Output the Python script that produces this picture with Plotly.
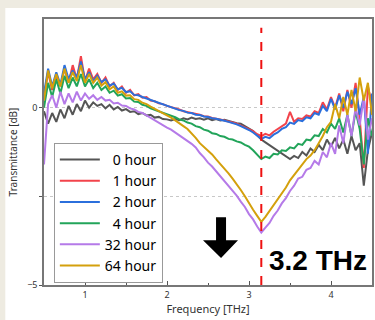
import plotly.graph_objects as go

freq = [0.50, 0.55, 0.60, 0.65, 0.70, 0.75, 0.80, 0.85, 0.90, 0.95,
        1.00, 1.05, 1.10, 1.15, 1.20, 1.25, 1.30, 1.35, 1.40, 1.45,
        1.50, 1.55, 1.60, 1.65, 1.70, 1.75, 1.80, 1.85, 1.90, 1.95,
        2.00, 2.05, 2.10, 2.15, 2.20, 2.25, 2.30, 2.35, 2.40, 2.45,
        2.50, 2.55, 2.60, 2.65, 2.70, 2.75, 2.80, 2.85, 2.90, 2.95,
        3.00, 3.05, 3.10, 3.15, 3.20, 3.25, 3.30, 3.35, 3.40, 3.45,
        3.50, 3.55, 3.60, 3.65, 3.70, 3.75, 3.80, 3.85, 3.90, 3.95,
        4.00, 4.05, 4.10, 4.15, 4.20, 4.25, 4.30, 4.35, 4.40, 4.45, 4.50]

h0 = [-0.1, -0.45, -0.15, -0.4, -0.05, -0.3, 0.05, -0.2, 0.1, -0.1,
      0.2, 0.0, 0.15, 0.05, 0.1, -0.02, 0.08, -0.05, 0.02, -0.08,
      -0.04, -0.12, -0.1, -0.18, -0.15, -0.22, -0.2, -0.28, -0.26, -0.32,
      -0.33, -0.36, -0.32, -0.35, -0.3, -0.33, -0.28, -0.32, -0.3, -0.34,
      -0.3, -0.35, -0.32, -0.36, -0.34, -0.38, -0.4, -0.44, -0.45, -0.52,
      -0.58, -0.66, -0.78, -0.9, -0.98, -1.06, -1.12, -1.22, -1.3, -1.38,
      -1.45, -1.36, -1.42, -1.25, -1.35, -1.15, -1.25, -1.05, -1.2, -0.9,
      -1.1, -0.85, -1.15, -0.9, -1.3, -0.8, -1.2, -1.0, -2.2, -1.2, -0.7]

h1 = [0.3, 1.0, 0.5, 0.9, 0.6, 1.1, 0.7, 1.2, 0.8, 1.45,
      0.75, 1.1, 0.8, 0.95, 0.7, 0.85, 0.6, 0.7, 0.5, 0.6,
      0.42, 0.5, 0.35, 0.38, 0.28, 0.3, 0.2, 0.18, 0.12, 0.1,
      0.05, 0.02, -0.03, -0.05, -0.1, -0.12, -0.16, -0.18, -0.2, -0.24,
      -0.25, -0.29, -0.3, -0.33, -0.36, -0.38, -0.42, -0.45, -0.5, -0.54,
      -0.6, -0.66, -0.75, -0.8, -0.74, -0.78, -0.68, -0.6, -0.52, -0.45,
      -0.12, -0.4, -0.3, -0.32, -0.22, -0.25, -0.1, -0.15, 0.15, -0.05,
      0.3, 0.0, 0.4, -0.1, 0.5, 0.0, 0.7, -0.3, -1.7, 0.6, 0.1]

h2 = [0.4, 1.1, 0.6, 1.0, 0.65, 1.2, 0.8, 1.05, 0.85, 1.3,
      0.8, 1.0, 0.75, 0.9, 0.72, 0.8, 0.62, 0.68, 0.52, 0.56,
      0.44, 0.46, 0.36, 0.35, 0.3, 0.26, 0.22, 0.16, 0.14, 0.08,
      0.06, 0.0, -0.02, -0.07, -0.09, -0.14, -0.15, -0.2, -0.21, -0.25,
      -0.26, -0.3, -0.31, -0.35, -0.37, -0.4, -0.43, -0.47, -0.52, -0.57,
      -0.63, -0.7, -0.8, -0.88, -0.82, -0.86, -0.76, -0.7, -0.6, -0.55,
      -0.42, -0.46, -0.35, -0.38, -0.27, -0.3, -0.15, -0.2, 0.05, -0.1,
      0.25, -0.05, 0.35, 0.0, 0.45, 0.1, 0.55, -0.2, 0.3, -1.3, 0.4]

h4 = [0.0, 0.7, 0.3, 0.8, 0.4, 0.9, 0.55, 0.85, 0.6, 0.95,
      0.6, 0.8, 0.55, 0.7, 0.5, 0.6, 0.42, 0.48, 0.34, 0.38,
      0.26, 0.27, 0.17, 0.16, 0.08, 0.05, -0.02, -0.06, -0.1, -0.15,
      -0.18, -0.24, -0.27, -0.33, -0.36, -0.42, -0.45, -0.52, -0.55, -0.62,
      -0.65, -0.72, -0.74, -0.8, -0.82, -0.88, -0.9, -0.95, -0.98, -1.05,
      -1.1, -1.2, -1.32, -1.45, -1.38, -1.42, -1.3, -1.32, -1.2, -1.22,
      -1.12, -1.15, -1.02, -1.05, -0.9, -0.92, -0.78, -0.8, -0.6, -0.7,
      -0.45, -0.6, -0.3, -0.7, -0.2, -0.8, -0.1, -0.6, -1.6, -0.3, -0.8]

h32 = [-1.6, 0.1, 0.35, 0.0, 0.45, 0.1, 0.4, 0.15, 0.45, 0.2,
       0.4, 0.25, 0.35, 0.22, 0.3, 0.2, 0.22, 0.12, 0.14, 0.06,
       0.05, -0.02, -0.05, -0.12, -0.15, -0.22, -0.3, -0.36, -0.44, -0.5,
       -0.56, -0.62, -0.7, -0.76, -0.85, -0.92, -1.02, -1.12, -1.28, -1.4,
       -1.55, -1.66, -1.8, -1.92, -2.05, -2.2, -2.35, -2.48, -2.65, -2.8,
       -3.0, -3.15, -3.35, -3.52, -3.38, -3.25, -3.05, -2.9, -2.7, -2.55,
       -2.35, -2.2, -2.0, -1.95, -1.75, -1.7, -1.5, -1.6, -1.25, -1.4,
       -1.0, -1.3, -0.5, -1.0, -0.2, -0.8, 0.0, -0.5, 0.3, -0.9, -0.3]

h64 = [0.2, 1.05, 0.55, 0.95, 0.6, 1.1, 0.7, 1.0, 0.75, 1.2,
       0.7, 0.95, 0.7, 0.85, 0.62, 0.72, 0.52, 0.6, 0.42, 0.46,
       0.34, 0.35, 0.24, 0.22, 0.14, 0.1, 0.03, -0.03, -0.1, -0.15,
       -0.22, -0.28, -0.36, -0.43, -0.52, -0.6, -0.72, -0.85, -1.0, -1.1,
       -1.22, -1.32, -1.46, -1.58, -1.72, -1.85, -2.0, -2.15, -2.32, -2.5,
       -2.7, -2.88, -3.05, -3.22, -3.08, -2.92, -2.75, -2.6, -2.42, -2.25,
       -2.05, -1.9, -1.72, -1.6, -1.45, -1.35, -1.2, -1.0, -0.8, -0.55,
       -0.4, 0.1, -0.3, 0.3, -0.2, 0.5, -0.1, 0.85, 0.2, 0.7, -0.2]

series_names = ["\u20070 hour", "\u20071 hour", "\u20072 hour", "\u20074 hour", "32 hour", "64 hour"]
series_values = [h0, h1, h2, h4, h32, h64]
series_colors = ["#555555", "#f2434b", "#2b6fdc", "#22a45a", "#b57ae8", "#d4a00c"]

y_ticks = [-5, -2.5, 0]
y_ticktext = ["\u22125", "", "0"]
x_ticks = [1, 2, 3, 4]
marker_freq = 3.15
marker_label = "3.2 THz"

fig = go.Figure()
for name, vals, col in zip(series_names, series_values, series_colors):
    fig.add_trace(go.Scatter(x=freq, y=vals, mode="lines", name=name,
                             line=dict(color=col, width=2)))

# white panel on beige page
fig.add_shape(type="rect", xref="paper", yref="paper", x0=-0.118, x1=1.2,
              y0=-0.3, y1=1.041, fillcolor="white", line=dict(width=0), layer="below")

# red dashed marker line
fig.add_shape(type="line", xref="x", yref="y", x0=marker_freq, x1=marker_freq,
              y0=-5, y1=2.25, line=dict(color="#ee1111", width=2, dash="dash"))

# down arrow
fig.add_shape(type="path", xref="x", yref="y",
              path="M 2.598 -3.09 L 2.720 -3.09 L 2.720 -3.74 L 2.866 -3.74 "
                   "L 2.659 -4.24 L 2.439 -3.74 L 2.598 -3.74 Z",
              fillcolor="black", line=dict(width=0))

fig.add_annotation(x=3.215, y=-4.32, xref="x", yref="y", text="<b>" + marker_label + "</b>",
                   showarrow=False, xanchor="left", yanchor="middle",
                   font=dict(family="Liberation Sans, Arial, sans-serif", size=28, color="black"))

fig.update_layout(
    width=375, height=320,
    margin=dict(l=44, r=1, t=19, b=35),
    paper_bgcolor="#eeebe1",
    plot_bgcolor="white",
    font=dict(family="Noto Sans, DejaVu Sans, sans-serif", color="#333"),
    showlegend=True,
    legend=dict(x=0.03, y=0.534, xanchor="left", yanchor="top",
                bgcolor="white", bordercolor="#999", borderwidth=1,
                font=dict(size=14, color="black"), itemwidth=40,
                tracegroupgap=0),
    xaxis=dict(range=[0.5, 4.5], tickvals=x_ticks, ticks="inside", ticklen=4,
               tickcolor="#555", showgrid=False, zeroline=False,
               showline=True, linecolor="#777", linewidth=1.5, mirror=True,
               minor=dict(dtick=0.5, ticks="inside", ticklen=2, tickcolor="#555", showgrid=False),
               tickfont=dict(size=9, color="#333"),
               title=dict(text="Frequency [THz]", font=dict(size=11, color="#333"), standoff=4)),
    yaxis=dict(range=[-5, 2.5], tickvals=y_ticks, ticktext=y_ticktext, ticks="outside",
               ticklen=3, tickcolor="#555", showgrid=True, gridcolor="#c8c8c8",
               griddash="dot", gridwidth=1, zeroline=False,
               showline=True, linecolor="#777", linewidth=1.5, mirror=True,
               tickfont=dict(size=9, color="#333"),
               title=dict(text="Transmittance [dB]", font=dict(size=10, color="#333"), standoff=8)),
)

fig.write_html("out.html", config={"displayModeBar": False},
               post_script="document.body.style.margin='0';document.body.style.overflow='hidden';")
